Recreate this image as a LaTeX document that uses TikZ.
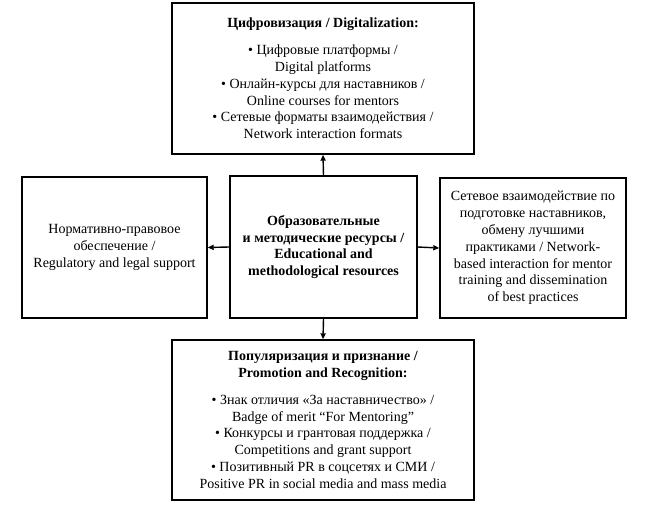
\documentclass[tikz,border=0pt]{standalone}
\usepackage{fontspec}
\setmainfont{Liberation Serif}
\usetikzlibrary{arrows.meta}
\begin{document}
\begin{tikzpicture}[x=1pt,y=-1pt,
  box/.style={draw=black,line width=1.4pt,rectangle,align=center,inner sep=1pt,
    font=\fontsize{14}{16.8}\selectfont},
  conn/.style={line width=1.4pt,-{Triangle[length=6pt,width=5pt]}}]
\useasboundingbox (0,0) rectangle (664,511);
\node[box,minimum width=302pt,minimum height=151pt] (top) at (323,78.5)
  {\textbf{Цифровизация / Digitalization:}\\[10pt]
   • Цифровые платформы /\\ Digital platforms\\
   • Онлайн-курсы для наставников /\\ Online courses for mentors\\
   • Сетевые форматы взаимодействия /\\ Network interaction formats};
\node[box,minimum width=185pt,minimum height=141pt] (left) at (114.5,247.5)
  {Нормативно-правовое\\ обеспечение /\\ Regulatory and legal support};
\node[box,minimum width=187pt,minimum height=142pt,font=\bfseries\fontsize{14}{16.8}\selectfont] (center) at (323.5,247)
  {Образовательные\\ и методические ресурсы /\\ Educational and\\ methodological resources};
\node[box,minimum width=186pt,minimum height=140pt] (right) at (533,248)
  {Сетевое взаимодействие по\\ подготовке наставников,\\ обмену лучшими\\ практиками / Network-\\ based interaction for mentor\\ training and dissemination\\ of best practices};
\node[box,minimum width=302pt,minimum height=160pt] (bottom) at (323,420)
  {\textbf{Популяризация и признание /}\\ \textbf{Promotion and Recognition:}\\[10pt]
   • Знак отличия «За наставничество» /\\ Badge of merit “For Mentoring”\\
   • Конкурсы и грантовая поддержка /\\ Competitions and grant support\\
   • Позитивный PR в соцсетях и СМИ /\\ Positive PR in social media and mass media};
\draw[conn] (center.north) -- (top.south);
\draw[conn] (center.west) -- (left.east);
\draw[conn] (center.east) -- (right.west);
\draw[conn] (center.south) -- (bottom.north);
\end{tikzpicture}
\end{document}
